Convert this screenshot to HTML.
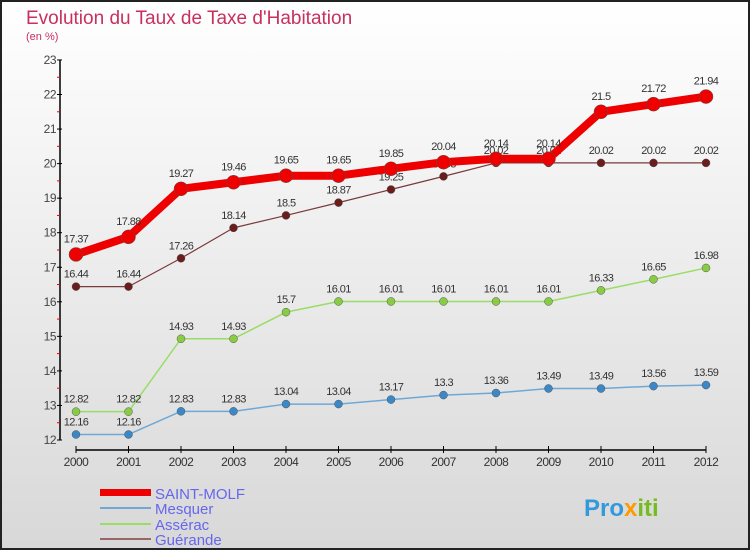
<!DOCTYPE html>
<html><head><meta charset="utf-8"><style>
html,body{margin:0;padding:0}
body{width:750px;height:550px;overflow:hidden;font-family:"Liberation Sans",sans-serif}
</style></head><body>
<svg width="750" height="550" xmlns="http://www.w3.org/2000/svg">
<defs><linearGradient id="bg" x1="0" y1="0" x2="0" y2="1"><stop offset="0" stop-color="#ffffff"/><stop offset="1" stop-color="#d8d8d8"/></linearGradient></defs>
<rect x="1" y="1" width="748" height="548" fill="url(#bg)" stroke="#222" stroke-width="2"/>
<text x="26" y="24" font-size="19" fill="#c8305e">Evolution du Taux de Taxe d'Habitation</text>
<text x="26" y="40" font-size="11" fill="#c8305e">(en %)</text>
<g id="axes"></g><g id="series"></g>
<g>
<rect x="100" y="489" width="51" height="7" fill="#ee0000"/>
<text x="155" y="499" font-size="15" fill="#6666ee">SAINT-MOLF</text>
<rect x="100" y="507" width="51" height="2" fill="#6fa8d6"/>
<text x="155" y="514" font-size="15" fill="#6666ee">Mesquer</text>
<rect x="100" y="523" width="51" height="2" fill="#99dd66"/>
<text x="155" y="530" font-size="15" fill="#6666ee">Assérac</text>
<rect x="100" y="538" width="51" height="2" fill="#996666"/>
<text x="155" y="545" font-size="15" fill="#6666ee">Guérande</text>
</g>
<text x="584" y="516" font-size="24" font-weight="bold" fill="#3399dd">Pro<tspan fill="#ff9900">x</tspan><tspan fill="#77bb22">iti</tspan></text>
</svg>
<script>
const years=[2000,2001,2002,2003,2004,2005,2006,2007,2008,2009,2010,2011,2012];
const yTicks=[12,13,14,15,16,17,18,19,20,21,22,23];
const saintMolf=[17.37,17.88,19.27,19.46,19.65,19.65,19.85,20.04,20.14,20.14,21.5,21.72,21.94];
const mesquer=[12.16,12.16,12.83,12.83,13.04,13.04,13.17,13.3,13.36,13.49,13.49,13.56,13.59];
const asserac=[12.82,12.82,14.93,14.93,15.7,16.01,16.01,16.01,16.01,16.01,16.33,16.65,16.98];
const guerande=[16.44,16.44,17.26,18.14,18.5,18.87,19.25,19.63,20.02,20.02,20.02,20.02,20.02];
const NS='http://www.w3.org/2000/svg';
const xS=i=>76+i*52.5;
const yS=v=>440-(v-12)*34.55;
function mk(tag,attrs,parent){const e=document.createElementNS(NS,tag);for(const k in attrs)e.setAttribute(k,attrs[k]);parent.appendChild(e);return e;}
const ax=document.getElementById('axes');
let a=mk('line',{x1:60,y1:yS(23),x2:60,y2:yS(12),stroke:'#000','stroke-width':1.5},ax);


yTicks.forEach((t,i)=>{
 let l=mk('line',{x1:57,x2:62,y1:yS(t),y2:yS(t),stroke:'#000'},ax);
 
 
 if(i<yTicks.length-1){let m=mk('line',{x1:57,x2:60,y1:yS(t+0.5),y2:yS(t+0.5),stroke:'#e00'},ax);
 
 }
 let tx=mk('text',{x:56,y:yS(t)+4,'font-size':12,'text-anchor':'end',fill:'#444','letter-spacing':'-0.5'},ax);tx.textContent=t;
 
 
});
let xa=mk('line',{x1:xS(0),x2:xS(12),y1:450,y2:450,stroke:'#000','stroke-width':1.5},ax);


years.forEach((y,i)=>{
 let l=mk('line',{x1:xS(i),x2:xS(i),y1:446,y2:453,stroke:'#000'},ax);
 
 
 let tx=mk('text',{x:xS(i),y:466,'font-size':12,'text-anchor':'middle',fill:'#333','letter-spacing':'-0.5'},ax);tx.textContent=y;
 
 
});
const sg=document.getElementById('series');
function series(name,vals,color,dot,lw,r){
 const g=mk('g',{},sg);
 
 
 let p=mk('polyline',{points:vals.map((v,i)=>xS(i)+','+yS(v)).join(' '),fill:'none',stroke:color,'stroke-width':lw,'stroke-linejoin':'round'},g);
 
 
 vals.forEach((v,i)=>{
  let c=mk('circle',{cx:xS(i),cy:yS(v),r:r,fill:dot,stroke:'#555','stroke-width':0.5},g);
  
  
  let t=mk('text',{x:xS(i),y:yS(v)-r-5,'font-size':11,'text-anchor':'middle',fill:'#333','letter-spacing':'-0.6'},g);t.textContent=v;
  
  
 });
}
series('guerande',guerande,'#7a3a3a','#6b1c1c',1.2,4);
series('asserac',asserac,'#99dd66','#88cc44',1.5,4);
series('mesquer',mesquer,'#6fa8d6','#3a88c8',1.5,4);
series('saint-molf',saintMolf,'#ee0000','#ee0000',8,7);
</script>
</body></html>
